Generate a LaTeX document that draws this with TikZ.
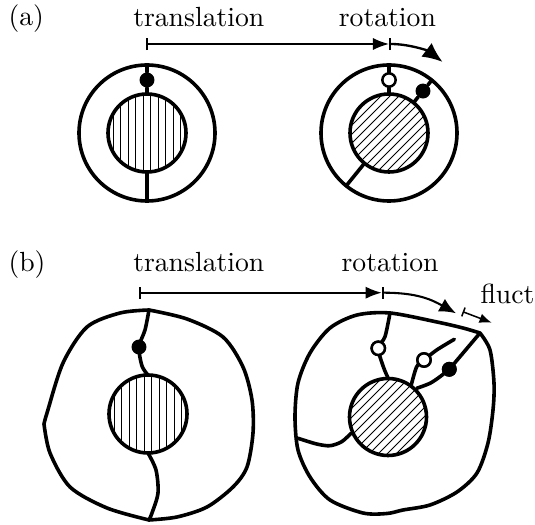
\documentclass[tikz,border=0pt]{standalone}
\usepackage{tikz}
\usetikzlibrary{arrows.meta}

\begin{document}
\begin{tikzpicture}[x=0.361pt, y=-0.361pt, line join=round, line cap=round,
    thickline/.style={line width=1.3pt},
    hatchline/.style={line width=0.3pt},
    fulldot/.style={circle, fill=black, inner sep=0pt, minimum size=5.4pt},
    opendot/.style={circle, draw, line width=0.9pt, fill=white, inner sep=0pt, minimum size=4.8pt},
    txt/.style={anchor=base west, inner sep=0pt},
    moveline/.style={line width=0.6pt, {Bar[width=4.4pt]}-{Latex[length=5.8pt, width=4.4pt]}},
    turnline/.style={line width=0.85pt, {Bar[width=4.4pt]}-{Latex[length=7.2pt, width=6.2pt]}},
    fluctline/.style={line width=0.55pt, {Bar[width=3.4pt]}-{Latex[length=4.4pt, width=3.5pt]}}]
    \useasboundingbox (0,0) rectangle (535,525);

    % (a) labels and arrows
    \node[txt] (ta) at (8,26) {(a)};
    \node[txt] (transa) at (132.7,26.7) {translation};
    \node[txt] (rota) at (338.3,26.7) {rotation};
    \coordinate (sa) at (146,44);
    \coordinate (ea) at (389,44);
    \draw[moveline] (sa) -- (ea);
    \draw[turnline] (ea) arc[start angle=-90, end angle=-53, radius=89];

    % (a) left: translated body
    \coordinate (ca) at (147,133);
    \begin{scope}
        \clip (ca) circle (39);
        \foreach \i in {-33.75,-26.25,...,34}
            \draw[hatchline, shift={(ca)}] (\i,-40) -- (\i,40);
    \end{scope}
    \draw[thickline] (ca) circle (68);
    \draw[thickline] (ca) circle (39);
    \node[fulldot] (da) at (147,80) {};
    \draw[thickline] (147,65) -- (da) -- (147,94);
    \draw[thickline] (147,172) -- (147,201);

    % (a) right: rotated body
    \coordinate (cb) at (389,133);
    \begin{scope}
        \clip (cb) circle (39);
        \foreach \i in {-54,-45,...,54}
            \draw[hatchline, shift={(cb)}] ({\i-45},45) -- ({\i+45},-45);
    \end{scope}
    \draw[thickline] (cb) circle (68);
    \draw[thickline] (cb) circle (39);
    \node[opendot] (ob) at (389,80) {};
    \draw[thickline] (389,65) -- (ob) -- (389,94);
    \node[fulldot] (db) at ([shift={(-51:54)}]cb) {};
    \draw[thickline] ([shift={(-51:39)}]cb) -- (db) -- ([shift={(-51:68)}]cb);
    \draw[thickline] ([shift={(129:39)}]cb) -- ([shift={(129:68)}]cb);

    % (b) labels and arrows
    \node[txt] (tb) at (8,271.7) {(b)};
    \node[txt] (transb) at (132.7,271.7) {translation};
    \node[txt] (rotb) at (341,271.7) {rotation};
    \node[txt] (flb) at (480,304) {fluct};
    \coordinate (sb) at (139.3,292.7);
    \coordinate (eb) at (381.7,292.7);
    \coordinate (fb) at (456,313.3);
    \coordinate (gb) at (462.7,311.7);
    \coordinate (hb) at (491.7,322.7);
    \draw[moveline] (sb) -- (eb);
    \draw[turnline, line width=0.75pt, {Bar[width=4.2pt]}-{Latex[length=6pt, width=5.2pt]}] (eb) .. controls +(35,0) and +(-25,-14) .. (fb);
    \draw[fluctline] (gb) -- (hb);

    % (b) left: translated deformed body
    \coordinate (cc) at (148,414);
    \begin{scope}
        \clip (cc) circle (39);
        \foreach \i in {-33.75,-26.25,...,34}
            \draw[hatchline, shift={(cc)}] (\i,-40) -- (\i,40);
    \end{scope}
    \draw[thickline] (149,310)
        -- plot[smooth] coordinates {(149,310) (187,319) (223,337) (243,367) (252,400) (253,433) (247,467) (233,487) (207,507) (177,517) (149,520)}
        -- plot[smooth] coordinates {(149,520) (107,508) (70,487) (50,453) (44,424)}
        -- plot[smooth] coordinates {(44,424) (47,413) (63,363) (87,327) (120,313) (149,310)};
    \draw[thickline] (cc) circle (39);
    \node[fulldot] (dc) at (139,347) {};
    \draw[thickline] plot[smooth] coordinates {(149,310) (145,330) (139,347) (142,366) (148,375)};
    \draw[thickline] plot[smooth] coordinates {(148,453) (156,470) (158,493) (152,513) (149,520)};

    % (b) right: rotated deformed body
    \coordinate (cd) at (388,417);
    \begin{scope}
        \clip (cd) circle (38.5);
        \foreach \i in {-54,-45,...,54}
            \draw[hatchline, shift={(cd)}] ({\i-45},45) -- ({\i+45},-45);
    \end{scope}
    \draw[thickline] plot[smooth] coordinates {(480,333) (490,350) (494,383) (493,410) (488,443) (477,473) (457,492) (430,505) (403,510) (387,513.5) (363,513) (330,500) (310,477) (298,450) (295,417) (298,383) (310,353) (330,328) (357,315) (390,313) (437,322) (463,328) (480,333)};
    \draw[thickline] (cd) circle (38.5);
    \node[opendot] (od) at (378.3,348.3) {};
    \node[opendot] (oe) at (424,360) {};
    \node[fulldot] (dd) at (449.3,369.3) {};
    \draw[thickline] plot[smooth] coordinates {(390,313) (385,336.7) (378.3,348.3) (383.3,366.7) (388.3,378.5)};
    \draw[thickline] plot[smooth] coordinates {(411,386) (416.7,366.7) (424,360) (436.7,350) (454.3,339.3)};
    \draw[thickline] plot[smooth] coordinates {(416.7,388.3) (430,383.3) (440,376.7) (449.3,369.3)} -- (480,333);
    \draw[thickline] plot[smooth] coordinates {(351,433.3) (341.7,441.7) (330,445.7) (316.7,444) (298,438.3)};
    \node[opendot] at (od) {};
    \node[opendot] at (oe) {};
    \node[fulldot] at (dd) {};
\end{tikzpicture}
\end{document}
